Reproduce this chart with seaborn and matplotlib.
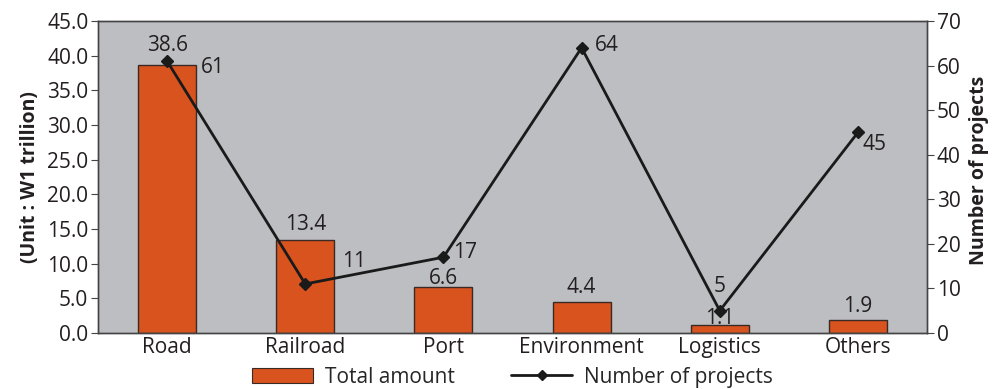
import matplotlib
matplotlib.use("Agg")
import matplotlib.pyplot as plt
import seaborn as sns
import pandas as pd
from matplotlib.patches import Patch
from matplotlib.lines import Line2D

categories = ["Road", "Railroad", "Port", "Environment", "Logistics", "Others"]
total_amount = [38.6, 13.4, 6.6, 4.4, 1.1, 1.9]
num_projects = [61, 11, 17, 64, 5, 45]

# annotation offsets in points: amount labels (vertical) and project-count labels (x, y)
amount_offsets = [14.5, 11.5, 6.5, 10.8, 5.0, 9.4]
count_offsets = [(24.5, -4.3), (26.6, 16.5), (7.2, 3.6), (9.4, 1.4), (0, 17.3), (3.6, -8.6)]

sns.set_theme(style="white")
plt.rcParams["font.family"] = ["Open Sans", "DejaVu Sans"]

FS = 15
bar_color = "#D8531E"
bg_color = "#BDBEC2"
text_color = "#231F20"
spine_color = "#444444"

df = pd.DataFrame({"category": categories, "amount": total_amount, "projects": num_projects})

fig = plt.figure(figsize=(9.92, 3.89), dpi=100)
ax = fig.add_axes([0.0988, 0.144, 0.8357, 0.802])
ax.set_facecolor(bg_color)

sns.barplot(data=df, x="category", y="amount", ax=ax, color=bar_color,
            width=0.42, edgecolor="#3a2a25", linewidth=1.0, saturation=1)
ax.set_xlim(-0.5, len(categories) - 0.5)
ax.set_ylim(0, 45)
ax.set_yticks([i * 5 for i in range(10)])
ax.set_yticklabels([f"{i * 5:.1f}" for i in range(10)], fontsize=FS, color=text_color)
ax.set_xlabel("")
ax.set_ylabel("(Unit : W1 trillion)", fontsize=14, fontweight="bold", color=text_color, labelpad=5)
ax.set_xticks([i + 0.5 for i in range(len(categories) - 1)], minor=True)
ax.tick_params(axis="x", which="major", length=0, labelsize=FS, colors=text_color, pad=3)
ax.tick_params(axis="x", which="minor", direction="in", length=6, width=0.8, color=spine_color)
ax.tick_params(axis="y", direction="out", length=5, width=0.8, color=spine_color, pad=2)

for p, v, dy in zip(ax.patches, total_amount, amount_offsets):
    ax.annotate(f"{v}", (p.get_x() + p.get_width() / 2, v), xytext=(0, dy),
                textcoords="offset points", ha="center", va="center",
                fontsize=FS, color=text_color)

ax2 = ax.twinx()
ax2.plot(categories, num_projects, color="#1a1a1a", linewidth=2.0,
         marker="D", markersize=6, zorder=5)
ax2.set_ylim(0, 70)
ax2.set_yticks(range(0, 71, 10))
ax2.tick_params(axis="y", direction="out", length=5, width=0.8, color=spine_color,
                labelsize=FS, labelcolor=text_color, pad=2)
ax2.set_ylabel("Number of projects", fontsize=14, fontweight="bold", color=text_color)
ax2.yaxis.set_label_coords(1.051, 0.52)

for i, (v, off) in enumerate(zip(num_projects, count_offsets)):
    ax2.annotate(f"{v}", (i, v), xytext=off, textcoords="offset points",
                 ha="left" if off[0] else "center", va="center",
                 fontsize=FS, color=text_color)

for a in (ax, ax2):
    for s in a.spines.values():
        s.set_color(spine_color)
        s.set_linewidth(1.0)

handles = [Patch(facecolor=bar_color, edgecolor="#3a2a25", linewidth=0.8),
           Line2D([0], [0], color="#1a1a1a", linewidth=2.0, marker="D", markersize=5)]
fig.legend(handles, ["Total amount", "Number of projects"], loc="center",
           bbox_to_anchor=(0.517, 0.03), ncol=2, frameon=False, fontsize=FS,
           handlelength=2.9, handleheight=0.75, columnspacing=2.7, handletextpad=0.6,
           borderpad=0.1)

fig.savefig("out.png", dpi=100)
